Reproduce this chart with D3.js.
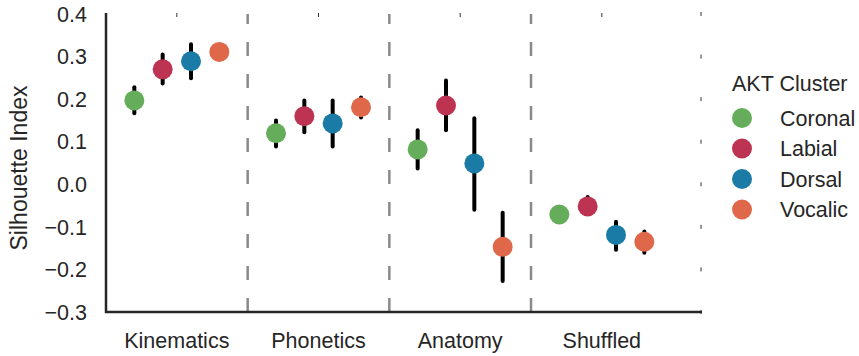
<!DOCTYPE html>
<html>
<head>
<meta charset="utf-8">
<script src="https://cdn.jsdelivr.net/npm/d3@7"></script>
<style>
  body { margin: 0; background: #fff; }
  text { font-family: "Liberation Sans", Arial, sans-serif; fill: #262626; }
</style>
</head>
<body>
<div id="content"></div>
<script>
// categories and clusters
var groups = ['Kinematics', 'Phonetics', 'Anatomy', 'Shuffled'];
var clusters = ['Coronal', 'Labial', 'Dorsal', 'Vocalic'];
var colors = ['#65ad5a', '#bd3453', '#1a7ca6', '#e0684a'];
var yTicks = [0.4, 0.3, 0.2, 0.1, 0.0, -0.1, -0.2, -0.3];

// mean silhouette per cluster, one value per group
var coronalMean = [0.197, 0.120, 0.082, -0.071];
var coronalLo   = [0.167, 0.089, 0.037, -0.078];
var coronalHi   = [0.228, 0.150, 0.127, -0.064];

var labialMean = [0.270, 0.160, 0.185, -0.052];
var labialLo   = [0.237, 0.122, 0.127, -0.064];
var labialHi   = [0.305, 0.197, 0.244, -0.030];

var dorsalMean = [0.289, 0.143, 0.049, -0.119];
var dorsalLo   = [0.249, 0.089, -0.060, -0.154];
var dorsalHi   = [0.329, 0.197, 0.155, -0.088];

var vocalicMean = [0.311, 0.181, -0.147, -0.135];
var vocalicLo   = [0.300, 0.157, -0.227, -0.161];
var vocalicHi   = [0.322, 0.204, -0.067, -0.111];

var series = [
  {name: 'Coronal', mean: coronalMean, lo: coronalLo, hi: coronalHi},
  {name: 'Labial', mean: labialMean, lo: labialLo, hi: labialHi},
  {name: 'Dorsal', mean: dorsalMean, lo: dorsalLo, hi: dorsalHi},
  {name: 'Vocalic', mean: vocalicMean, lo: vocalicLo, hi: vocalicHi}
];

var width = 859,
    height = 356;
var svg = d3.select('#content').append('svg')
  .attr('width', width)
  .attr('height', height);

// plot box (note: "top" is reserved on window, so use other names)
var pLeft = 106, pRight = 701, pTop = 14, pBottom = 312;

var x = d3.scaleLinear().domain([-0.5, 3.7]).range([pLeft, pRight]);
var y = d3.scaleLinear().domain([-0.3, 0.4]).range([pBottom, pTop]);
var dodge = [-0.3, -0.1, 0.1, 0.3];

// dashed separators between groups (drawn from the bottom up)
svg.selectAll('line.sep')
  .data([0.5, 1.5, 2.5])
  .enter().append('line')
    .attr('class', 'sep')
    .attr('x1', function(d) { return x(d); })
    .attr('x2', function(d) { return x(d); })
    .attr('y1', pBottom)
    .attr('y2', pTop)
    .style('stroke', '#8a8a8a')
    .style('stroke-width', 2.5)
    .style('stroke-dasharray', '14,18');

// tiny mirrored ticks on top and right
svg.selectAll('line.tt')
  .data(groups)
  .enter().append('line')
    .attr('class', 'tt')
    .attr('x1', function(d, i) { return x(i); })
    .attr('x2', function(d, i) { return x(i); })
    .attr('y1', pTop - 1)
    .attr('y2', pTop + 3)
    .style('stroke', '#333')
    .style('stroke-width', 1);
svg.selectAll('line.rt')
  .data(yTicks)
  .enter().append('line')
    .attr('class', 'rt')
    .attr('x1', pRight)
    .attr('x2', pRight)
    .attr('y1', function(d) { return y(d) - 2; })
    .attr('y2', function(d) { return y(d) + 2; })
    .style('stroke', '#333')
    .style('stroke-width', 1);

// spines
svg.append('line')
  .attr('x1', pLeft).attr('x2', pLeft)
  .attr('y1', pTop - 1).attr('y2', pBottom + 1)
  .style('stroke', '#262626').style('stroke-width', 2.5);
svg.append('line')
  .attr('x1', pLeft - 1).attr('x2', pRight + 1)
  .attr('y1', pBottom).attr('y2', pBottom)
  .style('stroke', '#262626').style('stroke-width', 2.5);

// y tick labels
svg.selectAll('text.ytick')
  .data(yTicks)
  .enter().append('text')
    .attr('class', 'ytick')
    .attr('x', 87)
    .attr('y', function(d) { return y(d); })
    .attr('dy', '0.36em')
    .attr('text-anchor', 'end')
    .style('font-size', '21.5px')
    .text(function(d) { return d3.format('.1f')(d).replace('-', '\u2212'); });

// x tick labels
svg.selectAll('text.xtick')
  .data(groups)
  .enter().append('text')
    .attr('class', 'xtick')
    .attr('x', function(d, i) { return x(i); })
    .attr('y', 348)
    .attr('text-anchor', 'middle')
    .style('font-size', '21.5px')
    .text(function(d) { return d; });

// y label
svg.append('text')
  .attr('transform', 'translate(27,168) rotate(-90)')
  .attr('text-anchor', 'middle')
  .style('font-size', '23px')
  .text('Silhouette Index');

// error bars then points
series.forEach(function(s, k) {
  svg.append('g').selectAll('line')
    .data(groups)
    .enter().append('line')
      .attr('x1', function(d, i) { return x(i + dodge[k]); })
      .attr('x2', function(d, i) { return x(i + dodge[k]); })
      .attr('y1', function(d, i) { return y(s.lo[i]); })
      .attr('y2', function(d, i) { return y(s.hi[i]); })
      .style('stroke', '#000')
      .style('stroke-width', 4)
      .style('stroke-linecap', 'round');
});
series.forEach(function(s, k) {
  svg.append('g').selectAll('circle')
    .data(groups)
    .enter().append('circle')
      .attr('cx', function(d, i) { return x(i + dodge[k]); })
      .attr('cy', function(d, i) { return y(s.mean[i]); })
      .attr('r', 10)
      .style('fill', colors[k]);
});

// legend
svg.append('text')
  .attr('x', 732)
  .attr('y', 91)
  .style('font-size', '21.5px')
  .text('AKT Cluster');
var legend = svg.selectAll('g.leg')
  .data(clusters)
  .enter().append('g')
    .attr('class', 'leg')
    .attr('transform', function(d, i) { return 'translate(742,' + (118 + i * 30.5) + ')'; });
legend.append('circle')
  .attr('r', 10)
  .style('fill', function(d, i) { return colors[i]; });
legend.append('text')
  .attr('x', 38)
  .attr('dy', '0.36em')
  .style('font-size', '21.5px')
  .text(function(d) { return d; });
</script>
</body>
</html>
